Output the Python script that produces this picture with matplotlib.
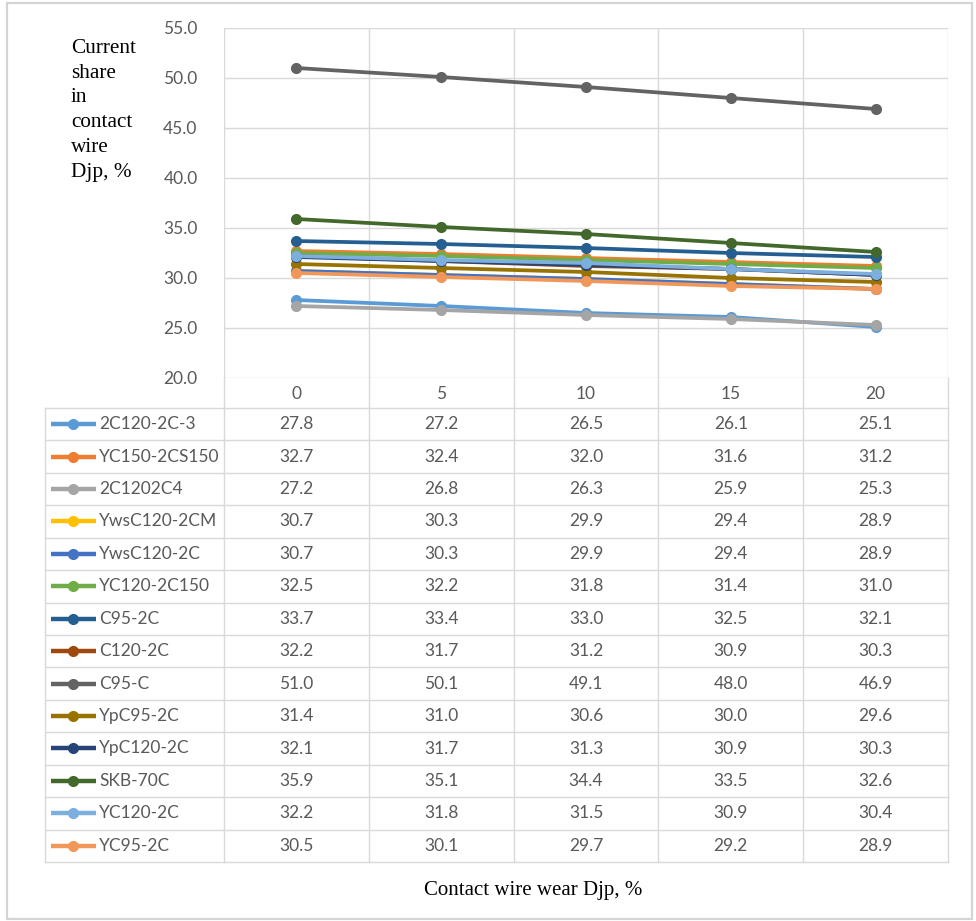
import matplotlib
matplotlib.use("Agg")
import matplotlib.pyplot as plt
from matplotlib.patches import Rectangle

# ---------------- data ----------------
wear = ["0", "5", "10", "15", "20"]
series_names = [
    "2C120-2C-3", "YC150-2CS150", "2C1202C4", "YwsC120-2CM", "YwsC120-2C",
    "YC120-2C150", "C95-2C", "C120-2C", "C95-C", "YpC95-2C", "YpC120-2C",
    "SKB-70C", "YC120-2C", "YC95-2C",
]
s_2C120_2C_3 = [27.8, 27.2, 26.5, 26.1, 25.1]
s_YC150_2CS150 = [32.7, 32.4, 32.0, 31.6, 31.2]
s_2C1202C4 = [27.2, 26.8, 26.3, 25.9, 25.3]
s_YwsC120_2CM = [30.7, 30.3, 29.9, 29.4, 28.9]
s_YwsC120_2C = [30.7, 30.3, 29.9, 29.4, 28.9]
s_YC120_2C150 = [32.5, 32.2, 31.8, 31.4, 31.0]
s_C95_2C = [33.7, 33.4, 33.0, 32.5, 32.1]
s_C120_2C = [32.2, 31.7, 31.2, 30.9, 30.3]
s_C95_C = [51.0, 50.1, 49.1, 48.0, 46.9]
s_YpC95_2C = [31.4, 31.0, 30.6, 30.0, 29.6]
s_YpC120_2C = [32.1, 31.7, 31.3, 30.9, 30.3]
s_SKB_70C = [35.9, 35.1, 34.4, 33.5, 32.6]
s_YC120_2C = [32.2, 31.8, 31.5, 30.9, 30.4]
s_YC95_2C = [30.5, 30.1, 29.7, 29.2, 28.9]
series_values = [
    s_2C120_2C_3, s_YC150_2CS150, s_2C1202C4, s_YwsC120_2CM, s_YwsC120_2C,
    s_YC120_2C150, s_C95_2C, s_C120_2C, s_C95_C, s_YpC95_2C, s_YpC120_2C,
    s_SKB_70C, s_YC120_2C, s_YC95_2C,
]
colors = [
    "#5B9BD5", "#ED7D31", "#A5A5A5", "#FFC000", "#4472C4", "#70AD47",
    "#255E91", "#9E480E", "#636363", "#997300", "#264478", "#43682B",
    "#7CAFDD", "#F1975A",
]
y_ticks = [20, 25, 30, 35, 40, 45, 50, 55]

# ---------------- layout ----------------
W, H = 976, 921
fig = plt.figure(figsize=(W / 100, H / 100), dpi=100)
fig.patch.set_facecolor("white")

def fx(px):
    return px / W

def fy(py):
    return 1 - py / H

grid_c = "#d9d9d9"
txt_c = "#595959"
sans = ["Lato", "DejaVu Sans"]
serif = ["Liberation Serif", "DejaVu Serif"]

# outer border
fig.patches.append(Rectangle((fx(7), fy(919)), fx(972) - fx(7), fy(3) - fy(919),
                             transform=fig.transFigure, fill=False,
                             edgecolor="#d4d4d4", lw=1.6))

# plot area
L, R, T, B = 224, 948, 28, 378
ax = fig.add_axes([fx(L), fy(B), fx(R) - fx(L), fy(T) - fy(B)])
x = list(range(len(wear)))
for vals, c in zip(series_values, colors):
    ax.plot(x, vals, color=c, lw=2.7, marker="o", ms=7, zorder=3,
            solid_capstyle="round")
ax.set_xlim(-0.5, len(wear) - 0.5)
ax.set_ylim(20, 55)
ax.set_yticks(y_ticks)
ax.set_yticklabels([f"{v:.1f}" for v in y_ticks], family=sans, fontsize=12.5,
                   color=txt_c)
ax.tick_params(axis="y", length=0, pad=19)
ax.set_xticks([])
for v in y_ticks:
    ax.axhline(v, color=grid_c, lw=1, zorder=1)
for k in range(len(wear) + 1):
    ax.axvline(k - 0.5, color=grid_c, lw=1, zorder=1)
for s in ax.spines.values():
    s.set_visible(False)

# data table
TB_top, TB_bot, TB_left = 378, 862, 45
col_w = (R - L) / len(wear)
nrows = len(series_names)
row_h = (TB_bot - 408) / nrows
hdr = (408 - TB_top) / row_h
tab = fig.add_axes([fx(TB_left), fy(TB_bot), fx(R) - fx(TB_left), fy(TB_top) - fy(TB_bot)])
xl = -0.5 - (L - TB_left) / col_w
tab.set_xlim(xl, len(wear) - 0.5)
tab.set_ylim(nrows, -hdr)
tab.axis("off")

# horizontal table lines
for r in range(nrows + 1):
    tab.plot([xl, len(wear) - 0.5], [r, r], color=grid_c, lw=1, clip_on=False)
# vertical table lines
tab.plot([xl, xl], [0, nrows], color=grid_c, lw=1, clip_on=False)
for k in range(len(wear) + 1):
    tab.plot([k - 0.5, k - 0.5], [-hdr, nrows], color=grid_c, lw=1, clip_on=False)

# header (category labels)
for k, lab in enumerate(wear):
    tab.text(k, -hdr / 2 + 0.03, lab, ha="center", va="center", family=sans,
             fontsize=12.5, color=txt_c)

# rows
px = 1 / col_w
for r, (name, vals, c) in enumerate(zip(series_names, series_values, colors)):
    yc = r + 0.5
    tab.plot([xl + 6 * px, xl + 51 * px], [yc, yc], color=c, lw=3.2,
             solid_capstyle="butt", clip_on=False)
    tab.plot([xl + 28 * px], [yc], marker="o", ms=7, color=c, clip_on=False)
    tab.text(xl + 54 * px, yc, name, ha="left", va="center", family=sans,
             fontsize=12.5, color=txt_c)
    for k, v in enumerate(vals):
        tab.text(k, yc, f"{v:.1f}", ha="center", va="center", family=sans,
                 fontsize=12.5, color=txt_c)

# axis titles
fig.text(fx(71), fy(39), "Current\nshare\nin\ncontact\nwire\nDjp, %", ha="left",
         va="top", family=serif, fontsize=15.3, linespacing=1.41, color="black")
fig.text(fx(533), fy(890), "Contact wire wear Djp, %", ha="center", va="center",
         family=serif, fontsize=15, color="black")

fig.savefig("out.png", dpi=100, facecolor="white")
